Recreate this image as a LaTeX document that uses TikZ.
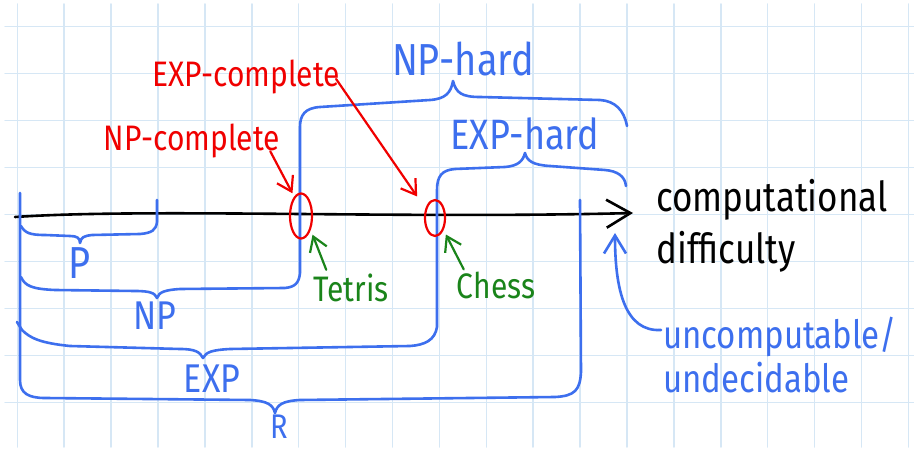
\documentclass[tikz,border=0pt]{standalone}
\usepackage{fontspec}
\setmainfont{Fira Sans}
\usetikzlibrary{arrows.meta,shapes.geometric,calc}
\definecolor{gridc}{HTML}{D6E7F5}
\definecolor{pen}{HTML}{3D6FEE}
\definecolor{redpen}{HTML}{F00000}
\definecolor{greenpen}{HTML}{1A841A}
\newcommand{\hw}[1]{\scalebox{1}[1.18]{#1}}
\begin{document}
\begin{tikzpicture}[x=1pt,y=-1pt,line cap=round,line join=round,
  blueline/.style={draw=pen,line width=2.6pt},
  inkline/.style={draw=black,line width=2.6pt},
  redline/.style={draw=redpen,line width=2.2pt},
  greenline/.style={draw=greenpen,line width=2.2pt},
  bluelbl/.style={inner sep=0pt,text=pen},
  redlbl/.style={inner sep=0pt,text=redpen},
  greenlbl/.style={inner sep=0pt,text=greenpen},
  circ/.style={ellipse,draw=redpen,line width=2.2pt,inner sep=0pt},
  fs/.style={font=\fontsize{#1}{#1}\selectfont}]
\useasboundingbox (0,0) rectangle (914,449);
\fill[white] (0,0) rectangle (914,449);
% grid paper
\foreach \i in {0,...,19}
  \draw[gridc,line width=1.5pt] ({17.3+46.9*\i},4) -- ({17.3+46.9*\i},447);
\foreach \j in {0,...,8}
  \draw[gridc,line width=1.5pt] (5,{26.7+46.95*\j}) -- (914,{26.7+46.95*\j});

% axis
\coordinate (ax0) at (15,217);
\coordinate (ax1) at (633,213);
\draw[inkline,-{Straight Barb[length=24pt,width=28pt]}] (ax0) .. controls (150,208) and (400,219) .. (ax1);
\node[anchor=west,align=left,fs=35,inner sep=0pt] (cd) at (656,226) {\hw{computational}\\[10pt]\hw{difficulty}};

% R brace with the long left line
\draw[blueline] (20,193) -- (20,380) .. controls (20,393) and (28,398) .. (45,398)
  -- (250,400) .. controls (268,401) and (273,405) .. (275,413)
  .. controls (277,405) and (282,401) .. (300,400)
  -- (555,397) .. controls (575,396) and (580,390) .. (581,372) -- (580,200);
% P brace
\draw[blueline] (21,226) .. controls (25,233) and (30,235) .. (45,235)
  -- (70,236) .. controls (77,236) and (80,238) .. (80,243)
  .. controls (81,237) and (84,236) .. (92,235)
  -- (140,234) .. controls (152,233) and (156,230) .. (157,222) -- (157,200);
% NP brace -> NP-hard brace
\draw[blueline] (21,277) .. controls (25,286) and (32,289) .. (55,290)
  -- (135,291) .. controls (150,291) and (155,293) .. (157,298)
  .. controls (159,292) and (165,290) .. (180,289)
  -- (285,288) .. controls (295,287) and (299,283) .. (300,273)
  -- (300,127) .. controls (300,115) and (305,108) .. (320,107)
  -- (430,100) .. controls (445,99) and (451,93) .. (453,81)
  .. controls (456,93) and (462,97) .. (480,97)
  -- (600,100) .. controls (615,101) and (624,110) .. (627,126);
% EXP brace -> EXP-hard brace
\draw[blueline] (17,322) -- (22,330) .. controls (30,338) and (40,343) .. (70,346)
  -- (180,349) .. controls (195,349) and (200,352) .. (203,358)
  .. controls (206,352) and (212,350) .. (230,349)
  -- (410,346) .. controls (425,345) and (435,340) .. (437,327)
  -- (437,190) .. controls (437,176) and (442,170) .. (455,169)
  -- (505,167) .. controls (518,166) and (523,161) .. (525,153)
  .. controls (527,161) and (533,165) .. (550,166)
  -- (605,170) .. controls (617,171) and (625,176) .. (626,186);

% blue labels
\node[bluelbl,fs=38] (p) at (80,263) {\hw{P}};
\node[bluelbl,fs=34] (np) at (155,316) {\hw{NP}};
\node[bluelbl,fs=34] (exp) at (212,379) {\hw{EXP}};
\node[bluelbl,fs=29] (r) at (279,427) {\hw{R}};
\node[bluelbl,fs=38] (nph) at (463,59) {\hw{NP-hard}};
\node[bluelbl,fs=36] (exph) at (525,134) {\hw{EXP-hard}};
\node[bluelbl,anchor=west,align=left,fs=33] (unc) at (663,355) {\hw{uncomputable/}\\[4pt]\hw{undecidable}};
\coordinate (uncstart) at (661,330);
\coordinate (unctip) at (615,233);
\draw[blueline,-{Straight Barb[length=18pt,width=22pt]}] (uncstart) .. controls (625,332) and (615,290) .. (unctip);

% red marks
\node[circ,minimum width=22pt,minimum height=45pt] (e1) at (301,216) {};
\node[circ,minimum width=20pt,minimum height=36pt] (e2) at (435,218) {};
\node[redlbl,fs=30] (expc) at (246,77) {\hw{EXP-complete}};
\node[redlbl,fs=30] (npc) at (192,141) {\hw{NP-complete}};
\draw[redline,-{Straight Barb[length=14pt,width=18pt]}] ($(npc.south east)+(-10,-7)$) -- ($(e1.north west)+(0,-6)$);
\draw[redline,-{Straight Barb[length=14pt,width=18pt]}] ($(expc.east)+(-4,2)$) -- ($(e2.north west)+(-10,-8)$);

% green labels
\node[greenlbl,fs=30] (tet) at (351,288) {\hw{Tetris}};
\node[greenlbl,fs=30] (ch) at (496,285) {\hw{Chess}};
\draw[greenline,-{Straight Barb[length=14pt,width=18pt]}] ($(tet.north west)+(13,-4)$) -- ($(e1.south east)+(3,2)$);
\draw[greenline,-{Straight Barb[length=14pt,width=18pt]}] ($(ch.north west)+(7,-2)$) -- ($(e2.south east)+(3,3)$);
\end{tikzpicture}
\end{document}
